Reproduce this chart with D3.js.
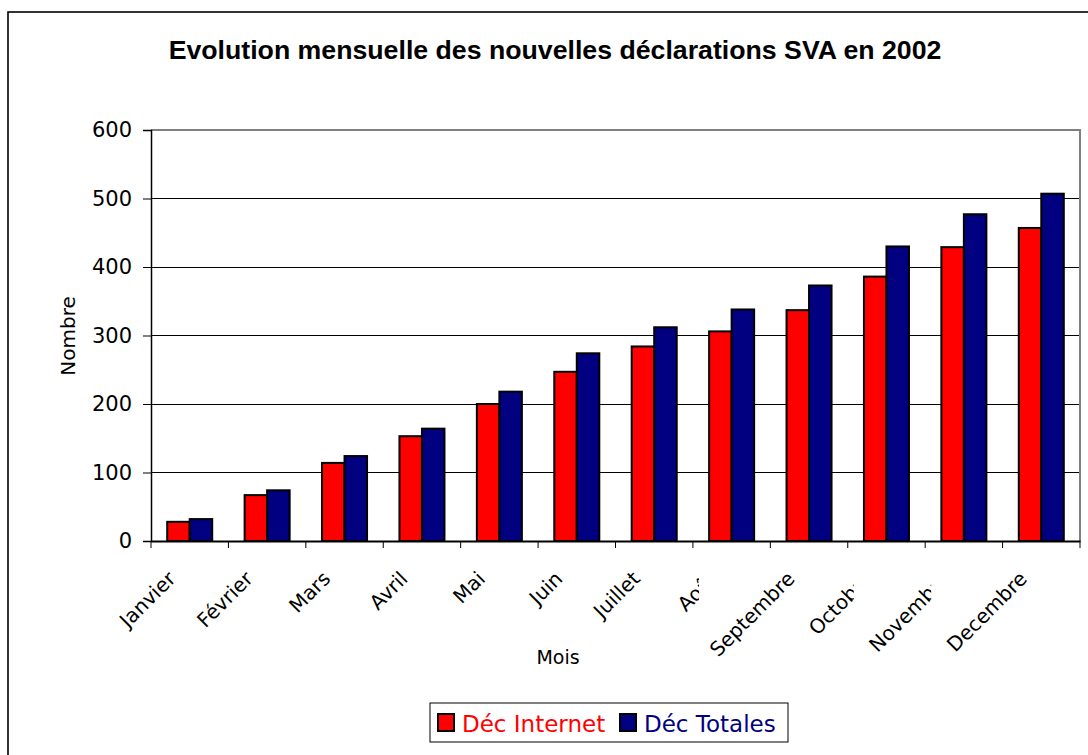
<!DOCTYPE html>
<html>
<head>
<meta charset="utf-8">
<script src="https://cdn.jsdelivr.net/npm/d3@7"></script>
<style>
  html, body { margin: 0; padding: 0; background: #fff; }
  svg { display: block; }
</style>
</head>
<body>
<svg id="chart" width="1088" height="755"></svg>
<script>
const months = ["Janvier", "Février", "Mars", "Avril", "Mai", "Juin", "Juillet", "Août", "Septembre", "Octobre", "Novembre", "Decembre"];
const decInternet = [28, 67, 114, 153, 200, 247, 284, 306, 337, 386, 429, 457];
const decTotales = [32, 74, 124, 164, 218, 274, 312, 338, 373, 430, 477, 507];
const yTicks = [0, 100, 200, 300, 400, 500, 600];
const seriesNames = ["Déc Internet", "Déc Totales"];
const seriesColors = ["#FF0000", "#000080"];
const clippedLabels = ["Août", "Octobre", "Novembre"];

const svg = d3.select("#chart");
const plot = { left: 151, right: 1080, top: 130, bottom: 541 };
const FONT = "'DejaVu Sans', Verdana, sans-serif";

// outer chart frame
svg.append("rect").attr("x", 8).attr("y", 12).attr("width", 1100).attr("height", 800)
  .attr("fill", "#fff").attr("stroke", "#000").attr("stroke-width", 1.6);

const x = d3.scaleBand().domain(months).range([plot.left, plot.right]).paddingInner(0).paddingOuter(0);
const inner = d3.scaleBand().domain(seriesNames).range([0, x.bandwidth()]).paddingInner(0).paddingOuter(0.72);
const y = d3.scaleLinear().domain([0, 600]).range([plot.bottom, plot.top]);

// gridlines
svg.append("g").selectAll("line").data(yTicks.filter(d => d > 0)).join("line")
  .attr("x1", plot.left).attr("x2", plot.right)
  .attr("y1", d => y(d)).attr("y2", d => y(d))
  .attr("stroke", d => (d === 600 ? "#808080" : "#000"))
  .attr("stroke-width", d => (d === 600 ? 2 : 1))
  .attr("shape-rendering", "crispEdges");

// plot right border
svg.append("line").attr("x1", plot.right).attr("x2", plot.right)
  .attr("y1", plot.top - 1).attr("y2", plot.bottom)
  .attr("stroke", "#808080").attr("stroke-width", 2);

// bars
const series = [decInternet, decTotales];
series.forEach((vals, si) => {
  svg.append("g").selectAll("rect").data(months).join("rect")
    .attr("x", m => x(m) + inner(seriesNames[si]))
    .attr("width", inner.bandwidth())
    .attr("y", (m, i) => y(vals[i]))
    .attr("height", (m, i) => y(0) - y(vals[i]))
    .attr("fill", seriesColors[si])
    .attr("stroke", "#000").attr("stroke-width", 2);
});

// y axis
const yAxis = d3.axisLeft(y).tickValues(yTicks).tickSize(8).tickPadding(11).tickFormat(d3.format("d"));
const gy = svg.append("g").attr("transform", `translate(${plot.left},0)`).call(yAxis);
gy.select(".domain").attr("stroke", "#000").attr("stroke-width", 1.5);
gy.selectAll(".tick line").attr("stroke", "#000");
gy.selectAll("text").attr("font-family", FONT).attr("font-size", 21).attr("fill", "#000");

// x axis
const xAxis = d3.axisBottom(x).tickSize(0).tickFormat("");
const gx = svg.append("g").attr("transform", `translate(0,${plot.bottom})`).call(xAxis);
gx.select(".domain").attr("stroke", "#000").attr("stroke-width", 2);
const bounds = months.map(m => x(m)).concat([plot.right]);
svg.append("g").selectAll("line").data(bounds).join("line")
  .attr("x1", d => d).attr("x2", d => d)
  .attr("y1", plot.bottom).attr("y2", plot.bottom + 7)
  .attr("stroke", "#000").attr("stroke-width", 1);

// clip paths for truncated labels (clipped near their category's left boundary)
const defs = svg.append("defs");
months.forEach((m, i) => {
  if (clippedLabels.includes(m)) {
    defs.append("clipPath").attr("id", "clip" + i)
      .append("rect").attr("x", 0).attr("y", plot.bottom).attr("width", x(m) + 6).attr("height", 200);
  }
});

const labels = svg.append("g");
months.forEach((m, i) => {
  const cx = x(m) + x.bandwidth() / 2;
  const g = labels.append("g");
  if (clippedLabels.includes(m)) g.attr("clip-path", `url(#clip${i})`);
  g.append("text")
    .attr("transform", `translate(${cx - 13},${plot.bottom + 39}) rotate(-45)`)
    .attr("text-anchor", "end")
    .attr("font-family", FONT)
    .attr("font-size", 20)
    .attr("fill", "#000")
    .text(m);
});

// axis titles
svg.append("text").attr("x", 558).attr("y", 664).attr("text-anchor", "middle")
  .attr("font-family", FONT).attr("font-size", 19).text("Mois");
svg.append("text").attr("transform", "translate(75,336) rotate(-90)").attr("text-anchor", "middle")
  .attr("font-family", FONT).attr("font-size", 20).text("Nombre");

// title
const title = svg.append("text").attr("x", 555).attr("y", 59).attr("text-anchor", "middle")
  .attr("font-family", "Liberation Sans, Arial, sans-serif").attr("font-weight", "bold")
  .attr("font-size", 20).text("Evolution mensuelle des nouvelles déclarations SVA en 2002");
const tw = title.node().getComputedTextLength();
title.attr("font-size", 20 * 773 / tw);

// legend
const lg = svg.append("g");
lg.append("rect").attr("x", 430).attr("y", 703).attr("width", 358).attr("height", 39)
  .attr("fill", "#fff").attr("stroke", "#000").attr("stroke-width", 1);
const legX = [438, 620];
seriesNames.forEach((s, i) => {
  lg.append("rect").attr("x", legX[i]).attr("y", 714).attr("width", 16).attr("height", 17)
    .attr("fill", seriesColors[i]).attr("stroke", "#000").attr("stroke-width", 2);
  lg.append("text").attr("x", legX[i] + 24).attr("y", 732)
    .attr("font-family", FONT).attr("font-size", 23)
    .attr("fill", seriesColors[i]).text(s);
});
</script>
</body>
</html>
